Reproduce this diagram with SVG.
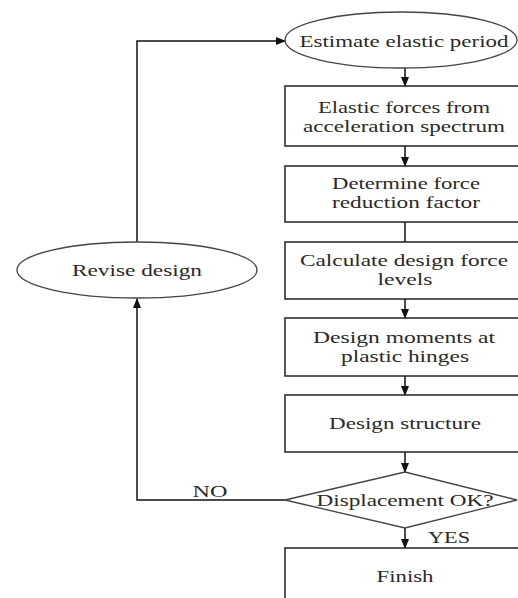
<svg xmlns="http://www.w3.org/2000/svg" width="518" height="598" viewBox="0 0 518 598">
<defs>
<marker id="ah" markerWidth="10" markerHeight="8" refX="9" refY="4" orient="auto" markerUnits="userSpaceOnUse">
<path d="M0,0 L10,4 L0,8 Z" fill="#111"/>
</marker>
<style>
.box{fill:#fff;stroke:#222;stroke-width:1.5}
.ell{fill:#fff;stroke:#444;stroke-width:1.3}
.t{font-family:"Liberation Serif","Times New Roman",serif;font-size:17px;fill:#2a2a2a;text-anchor:middle}
.c{fill:none;stroke:#111;stroke-width:1.5}
</style>
</defs>
<rect width="518" height="598" fill="#fff"/>
<g id="connectors">
<path class="c" d="M405,68 L405,86" marker-end="url(#ah)"/>
<path class="c" d="M405,146 L405,166" marker-end="url(#ah)"/>
<path class="c" d="M405,222 L405,242"/>
<path class="c" d="M405,299 L405,318" marker-end="url(#ah)"/>
<path class="c" d="M405,376 L405,395" marker-end="url(#ah)"/>
<path class="c" d="M405,452 L405,472" marker-end="url(#ah)"/>
<path class="c" d="M405,528 L405,548" marker-end="url(#ah)"/>
<path class="c" d="M285,500 L137,500 L137,299" marker-end="url(#ah)"/>
<path class="c" d="M137,242 L137,41 L285,41" marker-end="url(#ah)"/>
</g>
<g id="n1">
<ellipse class="ell" cx="401" cy="40" rx="116" ry="28"/>
<text class="t" x="404" y="47" textLength="209" lengthAdjust="spacingAndGlyphs">Estimate elastic period</text>
</g>
<g id="n2">
<rect class="box" x="285" y="86" width="240" height="60"/>
<text class="t" x="404" y="113" textLength="172" lengthAdjust="spacingAndGlyphs">Elastic forces from</text>
<text class="t" x="404" y="132" textLength="202" lengthAdjust="spacingAndGlyphs">acceleration spectrum</text>
</g>
<g id="n3">
<rect class="box" x="285" y="166" width="240" height="56"/>
<text class="t" x="406" y="189" textLength="148" lengthAdjust="spacingAndGlyphs">Determine force</text>
<text class="t" x="406" y="208" textLength="148" lengthAdjust="spacingAndGlyphs">reduction factor</text>
</g>
<g id="n4">
<rect class="box" x="285" y="242" width="240" height="57"/>
<text class="t" x="404" y="266" textLength="208" lengthAdjust="spacingAndGlyphs">Calculate design force</text>
<text class="t" x="405" y="285" textLength="55" lengthAdjust="spacingAndGlyphs">levels</text>
</g>
<g id="n5">
<rect class="box" x="285" y="318" width="240" height="58"/>
<text class="t" x="404" y="343" textLength="182" lengthAdjust="spacingAndGlyphs">Design moments at</text>
<text class="t" x="405" y="362" textLength="128" lengthAdjust="spacingAndGlyphs">plastic hinges</text>
</g>
<g id="n6">
<rect class="box" x="285" y="395" width="240" height="57"/>
<text class="t" x="405" y="429" textLength="152" lengthAdjust="spacingAndGlyphs">Design structure</text>
</g>
<g id="n7">
<polygon class="ell" points="285,500 405,472 517,500 405,528"/>
<text class="t" x="405" y="506" textLength="177" lengthAdjust="spacingAndGlyphs">Displacement OK?</text>
</g>
<g id="n8">
<rect class="box" x="285" y="548" width="240" height="60"/>
<text class="t" x="405" y="582" textLength="57" lengthAdjust="spacingAndGlyphs">Finish</text>
</g>
<g id="n9">
<ellipse class="ell" cx="137" cy="270" rx="120" ry="28"/>
<text class="t" x="137" y="276" textLength="130" lengthAdjust="spacingAndGlyphs">Revise design</text>
</g>
<g id="labels">
<text class="t" x="210" y="497" textLength="35" lengthAdjust="spacingAndGlyphs">NO</text>
<text class="t" x="449" y="543" textLength="42" lengthAdjust="spacingAndGlyphs">YES</text>
</g>
</svg>
